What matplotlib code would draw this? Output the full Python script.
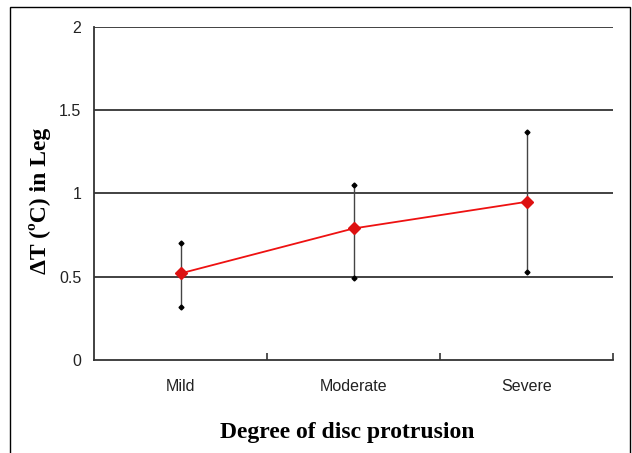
import numpy as np
import matplotlib.pyplot as plt
from matplotlib.patches import Rectangle

categories = ['Mild', 'Moderate', 'Severe']
means = [0.52, 0.79, 0.95]
lower = [0.32, 0.49, 0.53]
upper = [0.70, 1.05, 1.37]
yticks = [0, 0.5, 1, 1.5, 2]

fig = plt.figure(figsize=(6.32, 4.53), dpi=100)
ax = fig.add_axes([0.1487, 0.2053, 0.8215, 0.7351])

x = np.arange(len(categories))

# outer frame around the whole figure
fig.patches.append(Rectangle((10 / 632, -0.05), 620 / 632, 1.05 - 7 / 453,
                             transform=fig.transFigure, fill=False,
                             edgecolor='black', linewidth=1.0))

for yv in yticks[1:]:
    ax.axhline(yv, color='#333333', linewidth=1.3, zorder=1)

# error bars
ax.vlines(x, lower, upper, color='#444444', linewidth=1.0, zorder=2)
ax.plot(x, lower, 'D', color='black', markersize=2.5, zorder=3)
ax.plot(x, upper, 'D', color='black', markersize=2.5, zorder=3)

ax.plot(x, means, '-', color='#ee1111', linewidth=1.3, zorder=4)
ax.plot(x, means, 'D', color='#dd1111', markersize=6, zorder=5)

ax.set_xlim(-0.5, 2.5)
ax.set_ylim(0, 2)
ax.set_yticks(yticks)
ax.set_yticklabels(['0', '0.5', '1', '1.5', '2'], fontsize=11.5,
                   family='Liberation Sans', color='#222222')
ax.tick_params(axis='y', length=0, pad=9)

ax.set_xticks(x)
ax.set_xticklabels(categories, fontsize=11.5, family='Liberation Sans',
                   color='#222222')
ax.tick_params(axis='x', length=0, pad=14)
ax.set_xticks([0.5, 1.5, 2.5], minor=True)
ax.tick_params(axis='x', which='minor', direction='in', length=5,
               width=1.2, color='#333333')

for s in ['top', 'right']:
    ax.spines[s].set_visible(False)
for s in ['left', 'bottom']:
    ax.spines[s].set_color('#333333')
    ax.spines[s].set_linewidth(1.3)

ax.set_ylabel('ΔT (ºC) in Leg', fontsize=17, fontweight='bold',
              family='Liberation Serif')
ax.yaxis.set_label_coords(-0.083, 0.477)
ax.set_xlabel('Degree of disc protrusion', fontsize=17, fontweight='bold',
              family='Liberation Serif')
ax.xaxis.set_label_coords(0.4875, -0.186)

fig.savefig('out.png', dpi=100)
